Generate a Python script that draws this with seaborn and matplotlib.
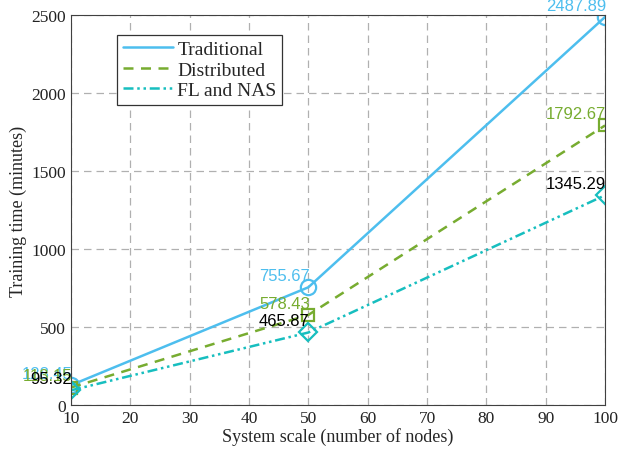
import matplotlib
matplotlib.use("Agg")
import matplotlib.pyplot as plt
import seaborn as sns
import pandas as pd

nodes = [10, 50, 100]
traditional = [128.45, 755.67, 2487.89]
distributed = [113.15, 578.43, 1792.67]
fl_nas = [95.32, 465.87, 1345.29]
series_names = ["Traditional", "Distributed", "FL and NAS"]
x_ticks = [10, 20, 30, 40, 50, 60, 70, 80, 90, 100]
y_ticks = [0, 500, 1000, 1500, 2000, 2500]

sns.set_style("white")
plt.rcParams['font.family'] = ['Liberation Serif', 'DejaVu Serif']

fig = plt.figure(figsize=(6.18, 4.6), dpi=100)
ax = fig.add_axes([0.115, 0.117, 0.864, 0.848])

colors = ["#4DBEEE", "#77AC30", "#17BEBF"]
styles = ["-", (0, (4, 3)), (0, (4, 1.5, 1, 1.5, 1, 1.5))]
markers = ["o", "s", "D"]
msizes = [11, 8, 9]
label_colors = ["#4DBEEE", "#77AC30", "black"]
datas = [traditional, distributed, fl_nas]

for name, vals, c, ls, m, ms in zip(series_names, datas, colors, styles, markers, msizes):
    df = pd.DataFrame({"x": nodes, "y": vals})
    sns.lineplot(data=df, x="x", y="y", ax=ax, color=c, linestyle=ls, linewidth=1.8,
                 label=name, marker=None)
    ax.plot(nodes, vals, linestyle="none", marker=m, markersize=ms,
            markerfacecolor="none", markeredgecolor=c, markeredgewidth=1.6)

for vals, lc in zip(datas, label_colors):
    for xv, yv in zip(nodes, vals):
        ax.annotate(f"{yv:.2f}", (xv, yv), xytext=(1, 3), textcoords="offset points",
                    ha="right", va="bottom", color=lc, fontsize=12,
                    family=["Liberation Sans", "DejaVu Sans"])

ax.set_xlim(10, 100)
ax.set_ylim(0, 2500)
ax.set_xticks(x_ticks)
ax.set_yticks(y_ticks)
ax.grid(True, linestyle=(0, (6, 4)), color="#b0b0b0", linewidth=0.9)
for s in ax.spines.values():
    s.set_visible(True)
    s.set_color("#404040")
    s.set_linewidth(0.8)
ax.tick_params(labelsize=12.5, colors="#222222", direction="in", length=4)
ax.set_xlabel("System scale (number of nodes)", fontsize=13, labelpad=1)
ax.set_ylabel("Training time (minutes)", fontsize=13, labelpad=3)

leg = ax.legend(loc="upper left", bbox_to_anchor=(0.068, 0.975), fontsize=14,
                frameon=True, fancybox=False, edgecolor="#333333", framealpha=1,
                handlelength=2.6, handletextpad=0.2, borderpad=0.3, labelspacing=0.15)
leg.get_frame().set_linewidth(0.9)

fig.savefig("out.png", dpi=100)
